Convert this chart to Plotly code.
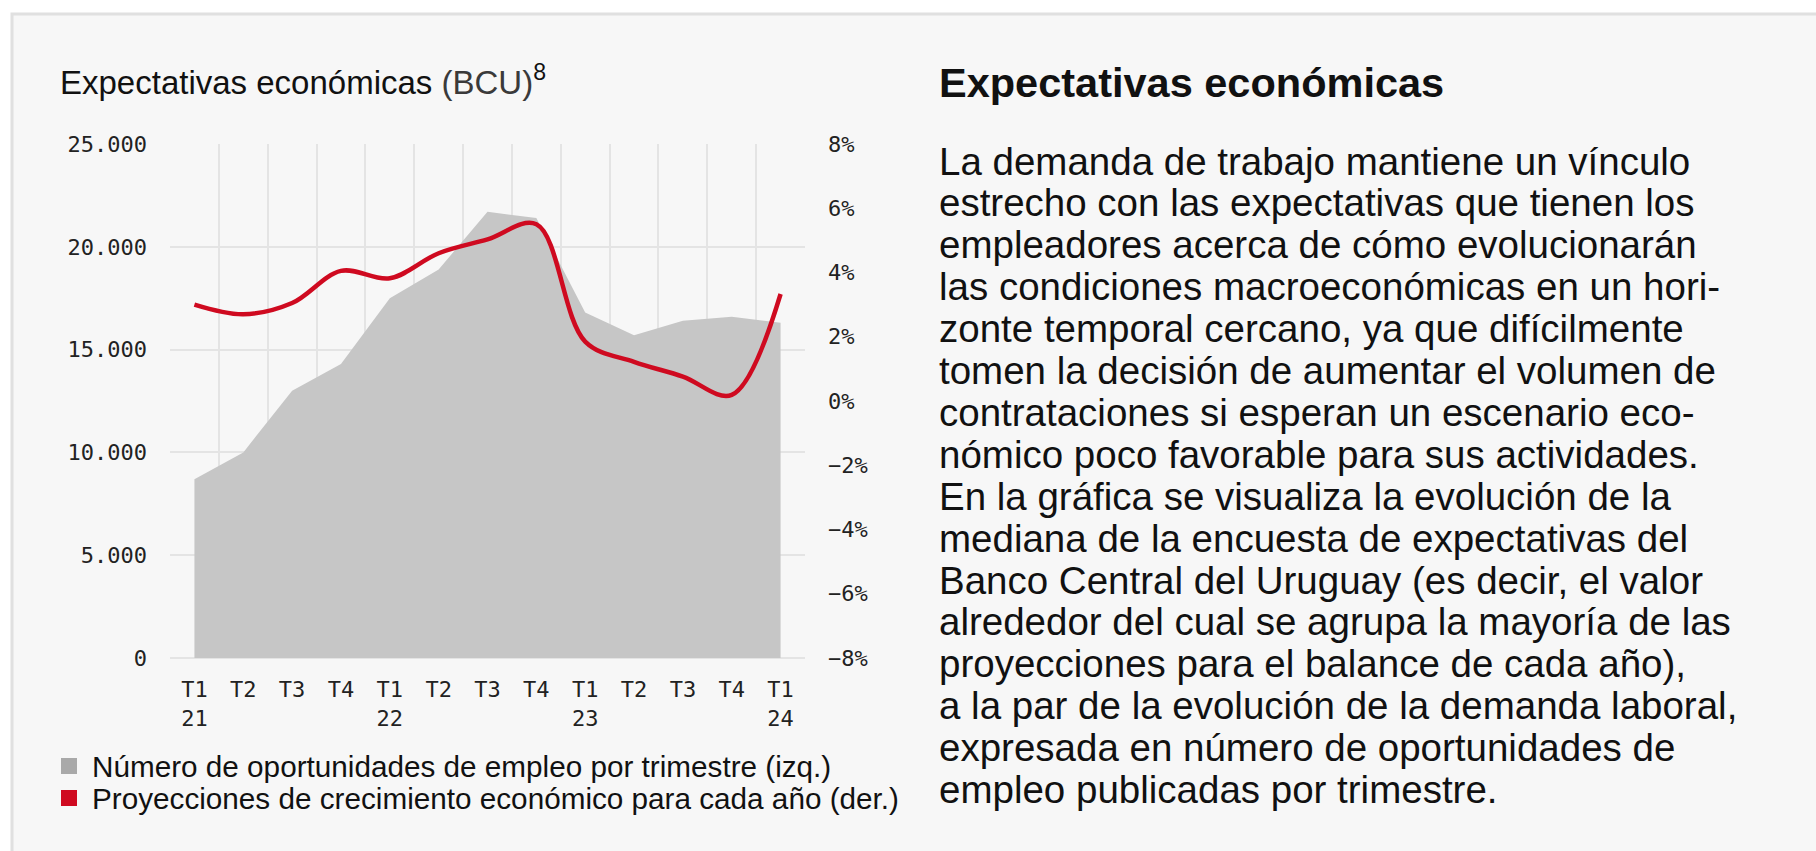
import plotly.graph_objects as go

# datos
trimestres = ["T1<br>21", "T2", "T3", "T4", "T1<br>22", "T2", "T3", "T4",
              "T1<br>23", "T2", "T3", "T4", "T1<br>24"]
cat_ids = list(range(len(trimestres)))
oportunidades = [8700, 10000, 13000, 14300, 17500, 18900, 21700, 21400,
                 16800, 15700, 16400, 16600, 16300]
crecimiento = [3.0, 2.7, 3.05, 4.05, 3.82, 4.6, 5.03, 5.5,
               1.85, 1.22, 0.76, 0.19, 3.33]

izq_vals = [0, 5000, 10000, 15000, 20000, 25000]
izq_text = ["0", "5.000", "10.000", "15.000", "20.000", "25.000"]
der_vals = [-8, -6, -4, -2, 0, 2, 4, 6, 8]
der_text = ["−8%", "−6%", "−4%", "−2%", "0%", "2%", "4%", "6%", "8%"]

texto = [
    "La demanda de trabajo mantiene un vínculo",
    "estrecho con las expectativas que tienen los",
    "empleadores acerca de cómo evolucionarán",
    "las condiciones macroeconómicas en un hori-",
    "zonte temporal cercano, ya que difícilmente",
    "tomen la decisión de aumentar el volumen de",
    "contrataciones si esperan un escenario eco-",
    "nómico poco favorable para sus actividades.",
    "En la gráfica se visualiza la evolución de la",
    "mediana de la encuesta de expectativas del",
    "Banco Central del Uruguay (es decir, el valor",
    "alrededor del cual se agrupa la mayoría de las",
    "proyecciones para el balance de cada año),",
    "a la par de la evolución de la demanda laboral,",
    "expresada en número de oportunidades de",
    "empleo publicadas por trimestre.",
]

GRIS = "#c6c6c6"
ROJO = "#cf0a20"
FONDO = "#f7f7f7"
GRID = "#e4e4e4"
SANS = "Liberation Sans, Arial, sans-serif"
MONO = "DejaVu Sans Mono, monospace"

W, H = 1816, 851
L, R, T, B = 170, 805, 144, 658


def fx(px):
    return (px - L) / (R - L)


def fy(py):
    return 1 - (py - T) / (B - T)


fig = go.Figure()
fig.add_trace(go.Scatter(x=cat_ids, y=oportunidades, fill="tozeroy", mode="lines",
                         line=dict(width=0, color=GRIS), fillcolor=GRIS,
                         hoverinfo="skip", showlegend=False))
fig.add_trace(go.Scatter(x=cat_ids, y=crecimiento, yaxis="y2", mode="lines",
                         line=dict(color=ROJO, width=4.5, shape="spline", smoothing=1.0),
                         showlegend=False))

fig.update_layout(
    width=W, height=H,
    margin=dict(l=L, r=W - R, t=T, b=H - B, pad=0),
    paper_bgcolor="white", plot_bgcolor="rgba(0,0,0,0)",
    xaxis=dict(range=[-0.5, 12.5], tickvals=cat_ids, ticktext=trimestres,
               showgrid=False, zeroline=False, ticks="",
               minor=dict(tickvals=[i - 0.5 for i in range(14)], showgrid=True,
                          gridcolor=GRID, gridwidth=2, ticks=""),
               tickfont=dict(family=MONO, size=22, color="#222"),
               ticklabelstandoff=16),
    yaxis=dict(range=[0, 25000], tickvals=izq_vals, ticktext=izq_text,
               showgrid=True, gridcolor=GRID, gridwidth=2,
               zeroline=True, zerolinecolor=GRID, zerolinewidth=2, ticks="",
               tickfont=dict(family=MONO, size=22, color="#222"),
               ticklabelstandoff=22),
    yaxis2=dict(range=[-8, 8], tickvals=der_vals, ticktext=der_text,
                overlaying="y", side="right", showgrid=False, zeroline=False,
                ticks="", tickfont=dict(family=MONO, size=22, color="#222"),
                ticklabelstandoff=22),
)

# marco de fondo
fig.add_shape(type="rect", xref="paper", yref="paper", layer="below",
              x0=fx(12), x1=fx(W + 20), y0=fy(H + 20), y1=fy(14),
              fillcolor=FONDO, line=dict(color="#e0e0e0", width=3))

anns = []
anns.append(dict(x=fx(58), y=fy(80), xanchor="left", yanchor="middle",
                 text="Expectativas económicas <span style='color:#3a3a3a'>(BCU)</span><sup>8</sup>",
                 font=dict(family=SANS, size=33, color="#111")))
anns.append(dict(x=fx(937), y=fy(83), xanchor="left", yanchor="middle",
                 text="<b>Expectativas económicas</b>",
                 font=dict(family=SANS, size=41.5, color="#111")))
for i, linea in enumerate(texto):
    anns.append(dict(x=fx(937), y=fy(161 + i * 41.9), xanchor="left", yanchor="middle",
                     text=linea, font=dict(family=SANS, size=38.5, color="#111")))

leyenda = [("Número de oportunidades de empleo por trimestre (izq.)", "#a9a9a9", 766),
           ("Proyecciones de crecimiento económico para cada año (der.)", ROJO, 798)]
for nombre, color, yc in leyenda:
    fig.add_shape(type="rect", xref="paper", yref="paper",
                  x0=fx(61), x1=fx(77), y0=fy(yc + 8), y1=fy(yc - 8),
                  fillcolor=color, line=dict(width=0))
    anns.append(dict(x=fx(90), y=fy(yc), xanchor="left", yanchor="middle",
                     text=nombre, font=dict(family=SANS, size=29.7, color="#111")))

for a in anns:
    a.update(xref="paper", yref="paper", showarrow=False)
fig.update_layout(annotations=anns)

fig.write_html("out.html", config={"displayModeBar": False},
               post_script="document.body.style.margin='0';document.body.style.overflow='hidden';")
